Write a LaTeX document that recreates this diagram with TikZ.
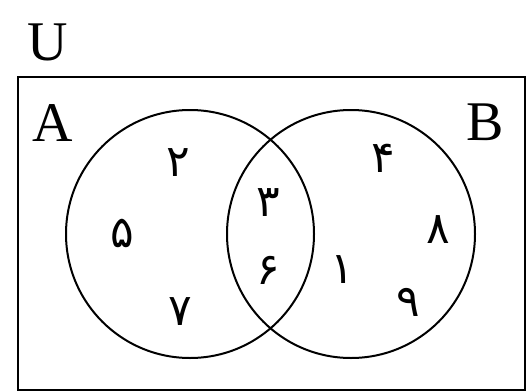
\documentclass[tikz,border=0pt]{standalone}
\usepackage{fontspec}
\setmainfont{Liberation Serif}
\newfontfamily\fadigits[Script=Arabic]{DejaVu Sans}
\begin{document}
\begin{tikzpicture}[x=1pt,y=-1pt,
  setlabel/.style={font=\fontsize{56}{60}\selectfont, inner sep=0pt},
  digit/.style={font=\fadigits\fontsize{44}{48}\selectfont, inner sep=0pt},
  setcircle/.style={line width=2pt}]
\useasboundingbox (0,0) rectangle (530,391);
\draw[line width=2.5pt] (18,77) rectangle (525,390);
\node[setlabel] (U) at (48,42) {U};
\node[setlabel] (A) at (53,123) {A};
\node[setlabel] (B) at (485,122) {B};
\draw[setcircle] (190,234) circle (124);
\draw[setcircle] (351,234) circle (124);
\node[digit] (d2) at (178,163) {۲};
\node[digit] (d5) at (122,233) {۵};
\node[digit] (d7) at (180,312) {۷};
\node[digit] (d3) at (268,203) {۳};
\node[digit] (d6) at (268,270) {۶};
\node[digit] (d4) at (383,158) {۴};
\node[digit] (d8) at (438,230) {۸};
\node[digit] (d1) at (342,270) {۱};
\node[digit] (d9) at (408,302) {۹};
\end{tikzpicture}
\end{document}
